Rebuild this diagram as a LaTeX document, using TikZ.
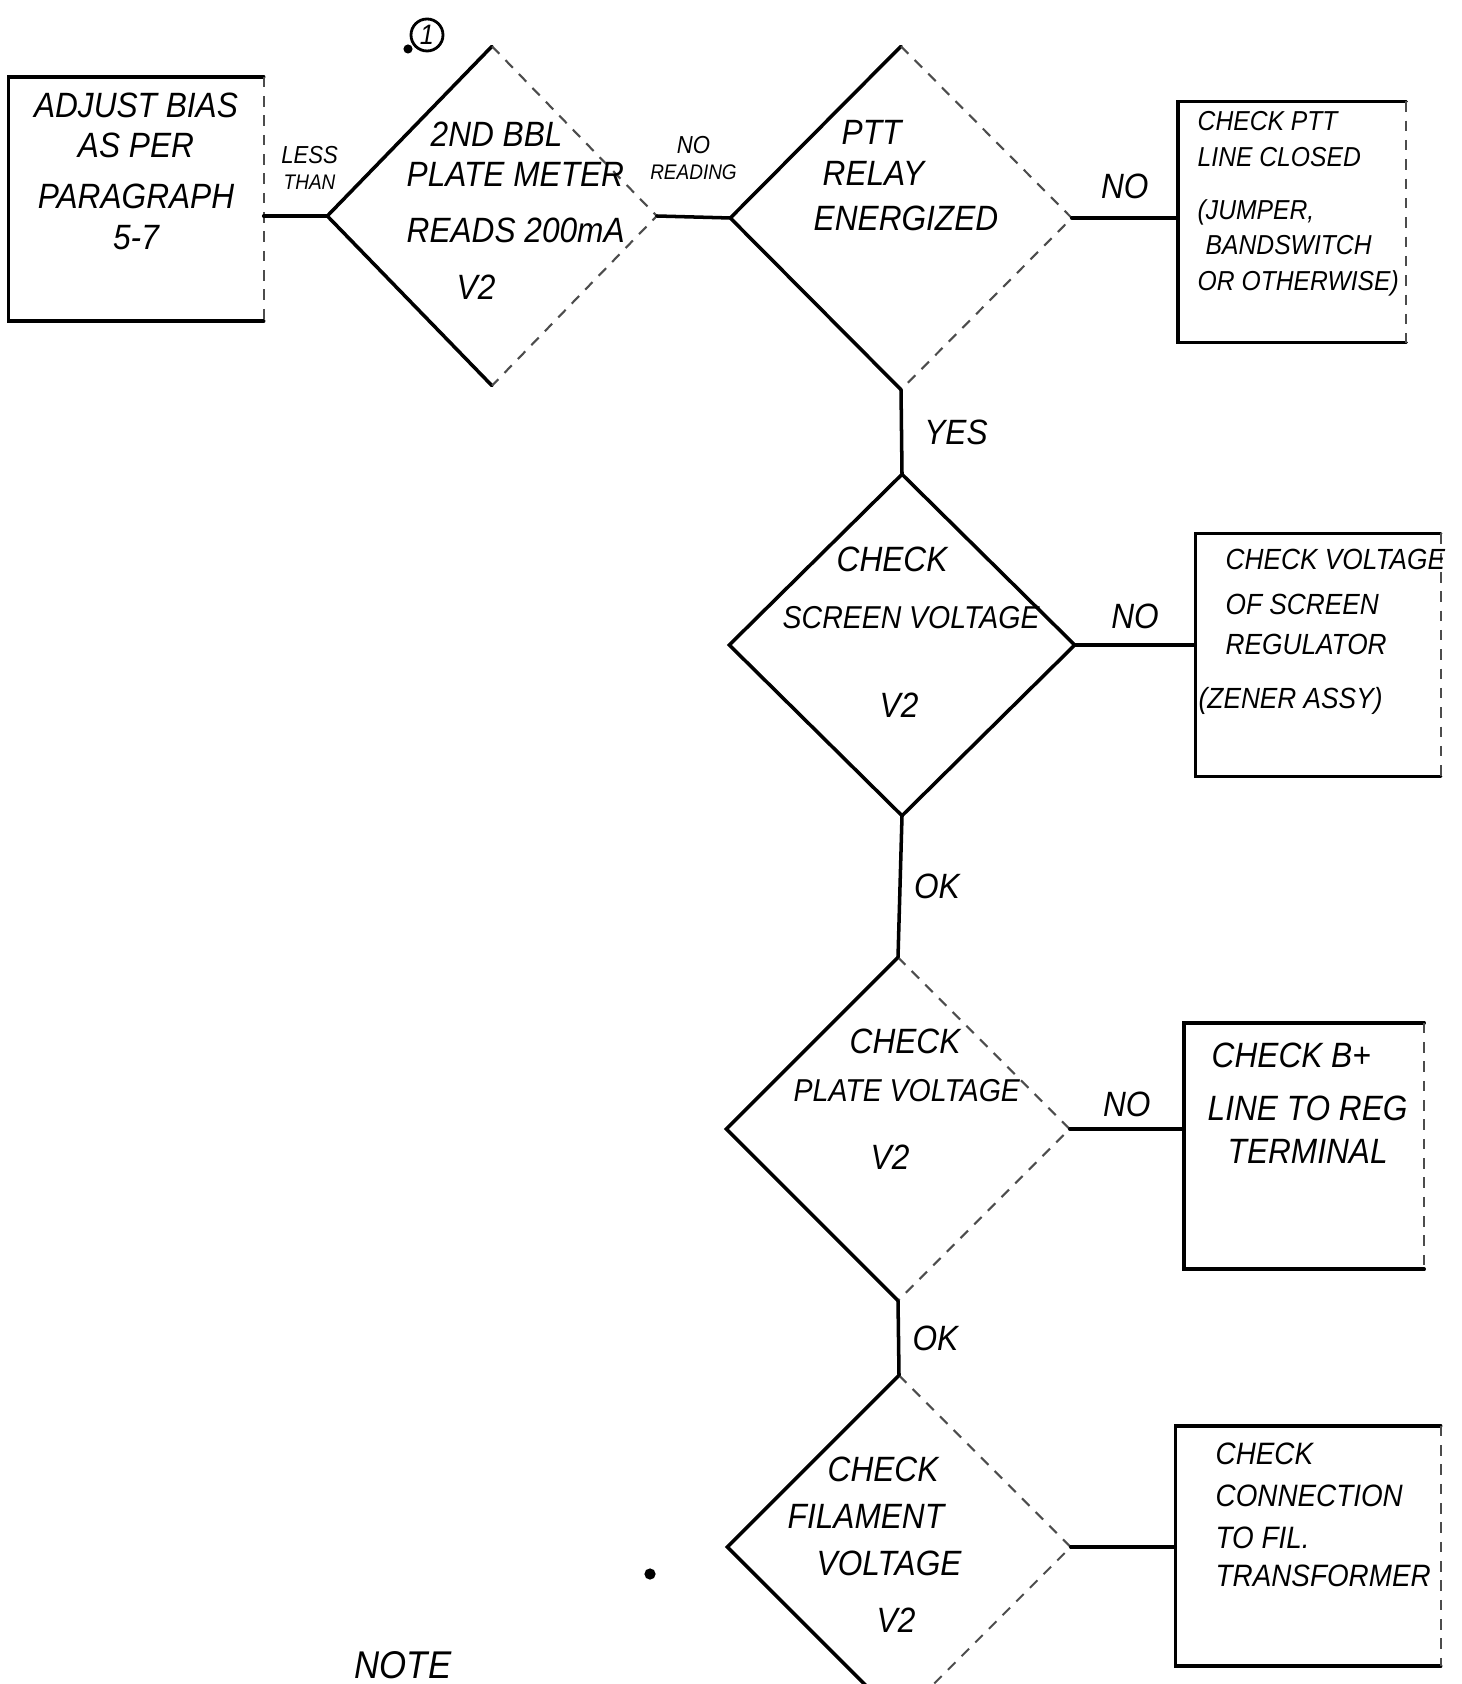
\documentclass[tikz,border=0pt]{standalone}
\usepackage{fontspec}
\setmainfont{Liberation Sans}[FakeStretch=0.9]
\usepackage{tikz}
\usetikzlibrary{shapes.geometric,positioning,calc}
\tikzstyle{edge} = [line width=1pt, black, line cap=round]
\tikzstyle{faded} = [line width=0.6pt, black!70, dash pattern=on 3pt off 2.5pt]
\tikzstyle{decision} = [diamond, draw=none, inner sep=0pt, minimum width=3.42cm, minimum height=3.42cm]
\tikzstyle{action} = [rectangle, draw=none, inner sep=0pt]
\tikzstyle{hand} = [inner sep=0pt, align=left, font=\itshape\fontsize{10}{11.5}\selectfont]
\tikzstyle{handsmall} = [hand, font=\itshape\fontsize{9}{10.5}\selectfont]
\tikzstyle{tag} = [inner sep=0pt, align=center, font=\itshape\fontsize{10}{11}\selectfont]
\tikzstyle{tagsmall} = [inner sep=0pt, align=center, font=\itshape\fontsize{7}{7.5}\selectfont]

\begin{document}
\begin{tikzpicture}
    \useasboundingbox (0,0) rectangle (14.61,-16.84);
    \clip (0,0) rectangle (14.61,-16.84);

    % Decisions
    \node[decision, minimum width=3.28cm, minimum height=3.38cm] (dbias) at (4.92,-2.16) {};
    \node[decision, minimum width=3.40cm, minimum height=3.42cm] (dptt) at (9.01,-2.18) {};
    \node[decision, minimum width=3.44cm, minimum height=3.40cm] (dscreen) at (9.02,-6.45) {};
    \node[decision] (dplate) at (8.98,-11.29) {};
    \node[decision] (dfil) at (8.99,-15.47) {};

    % Actions
    \node[action, minimum width=2.54cm, minimum height=2.43cm] (badj) at (1.36,-1.99) {};
    \node[action, minimum width=2.27cm, minimum height=2.40cm] (bptt) at (12.92,-2.22) {};
    \node[action, minimum width=2.44cm, minimum height=2.42cm] (bscreen) at (13.18,-6.55) {};
    \node[action, minimum width=2.39cm, minimum height=2.45cm] (bplate) at (13.04,-11.46) {};
    \node[action, minimum width=2.64cm, minimum height=2.39cm] (bfil) at (13.08,-15.46) {};

    % Outlines
    \foreach \d in {dbias,dptt,dplate,dfil} {
        \draw[edge] (\d.north) -- (\d.west) -- (\d.south);
        \draw[faded] (\d.north) -- (\d.east) -- (\d.south);
    }
    \draw[edge] (dscreen.north) -- (dscreen.east) -- (dscreen.south) -- (dscreen.west) -- cycle;
    \foreach \b in {badj,bptt,bscreen,bplate,bfil} {
        \draw[edge] (\b.north east) -- (\b.north west) -- (\b.south west) -- (\b.south east);
        \draw[faded] (\b.north east) -- (\b.south east);
    }

    % Step mark
    \node[circle, draw, thick, inner sep=0pt, minimum size=0.32cm, font=\itshape\fontsize{8}{8}\selectfont] (nstep) at (4.27,-0.35) {1};
    \fill (4.08,-0.49) circle (1.3pt);

    % Texts
    \node[hand, align=center, anchor=north] (tadj) at (1.36,-0.92) {ADJUST BIAS\\ AS PER\\[3pt] PARAGRAPH\\ 5-7};
    \node[hand, anchor=north west] (tbias) at (4.06,-1.21) {\hspace*{0.24cm}2ND BBL\\ PLATE METER\\[4.5pt] READS 200mA\\[4.5pt] \hspace*{0.5cm}V2};
    \node[hand, anchor=north west] (tptt) at (8.13,-1.20) {\hspace*{0.28cm}PTT\\ \hspace*{0.09cm}RELAY\\[1.5pt] ENERGIZED};
    \node[hand, anchor=north west] (tscreen) at (7.82,-5.46) {\hspace*{0.54cm}CHECK\\[4.7pt] {\fontsize{9}{11}\selectfont SCREEN VOLTAGE}\\[14pt] \hspace*{0.97cm}V2};
    \node[hand, anchor=north west] (tplate) at (7.93,-10.28) {\hspace*{0.56cm}CHECK\\[2.3pt] {\fontsize{9}{11}\selectfont PLATE VOLTAGE}\\[7.8pt] \hspace*{0.77cm}V2};
    \node[hand, anchor=north west] (tfil) at (7.87,-14.56) {\hspace*{0.4cm}CHECK\\[1.9pt] FILAMENT\\[2pt] \hspace*{0.29cm}VOLTAGE\\[4.7pt] \hspace*{0.89cm}V2};

    \node[hand, anchor=north west, font=\itshape\fontsize{7.8}{10.1}\selectfont] (tbptt) at (11.97,-1.11) {CHECK PTT\\ LINE CLOSED\\[5pt] (JUMPER,\\ \hspace*{0.08cm}BANDSWITCH\\ OR OTHERWISE)};
    \node[hand, anchor=north west, font=\itshape\fontsize{8.3}{11.5}\selectfont] (tbscreen) at (12.25,-5.48) {CHECK VOLTAGE\\[1.3pt] OF SCREEN\\ REGULATOR\\[3.8pt] \hspace*{-0.27cm}(ZENER ASSY)};
    \node[hand, anchor=north west] (tbplate) at (12.07,-10.42) {\hspace*{0.04cm}CHECK B+\\[3.7pt] LINE TO REG\\[0.7pt] \hspace*{0.2cm}TERMINAL};
    \node[handsmall, anchor=north west, font=\itshape\fontsize{8.8}{12}\selectfont] (tbfil) at (12.15,-14.42) {CHECK\\ CONNECTION\\ TO FIL.\\[-1.3pt] TRANSFORMER};

    \node[hand, anchor=south, font=\itshape\fontsize{11}{12}\selectfont] (tnote) at (4.03,-16.80) {NOTE};
    \fill (6.50,-15.74) circle (1.6pt);

    % Connectors
    \draw[edge] (dbias.west -| badj.east) -- (dbias.west)
        node[midway, above=7pt, xshift=4pt, tagsmall] (lless) {LESS\\ {\fontsize{6}{6.5}\selectfont THAN}};
    \draw[edge] (dbias.east) -- (dptt.west)
        node[midway, above=10pt, tagsmall] (lread) {NO\\ {\fontsize{6}{6.5}\selectfont READING}};
    \draw[edge] (dptt.east) -- (dptt.east -| bptt.west) node[midway, above=5pt, tag] (lnoptt) {NO};
    \draw[edge] (dptt.south) -- (dscreen.north) node[midway, right=6pt, tag] (lyes) {YES};
    \draw[edge] (dscreen.east) -- (dscreen.east -| bscreen.west) node[midway, above=4pt, tag] (lnoscreen) {NO};
    \draw[edge] (dscreen.south) -- (dplate.north) node[midway, right=3.5pt, tag] (lokscreen) {OK};
    \draw[edge] (dplate.east) -- (dplate.east -| bplate.west) node[midway, above=3pt, tag] (lnoplate) {NO};
    \draw[edge] (dplate.south) -- (dfil.north) node[midway, right=3.5pt, tag] (lokplate) {OK};
    \draw[edge] (dfil.east) -- (dfil.east -| bfil.west);
\end{tikzpicture}
\end{document}
